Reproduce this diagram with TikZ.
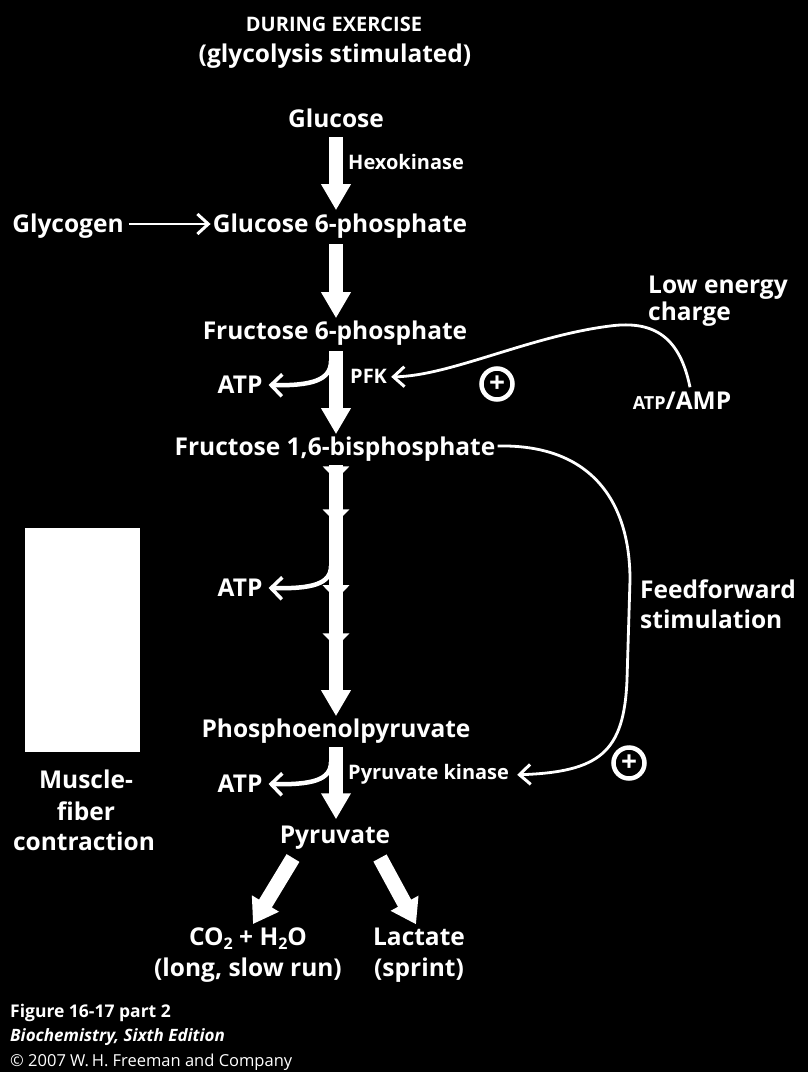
\documentclass[tikz,border=0pt]{standalone}
\usepackage{fontspec}
\setmainfont{Open Sans}
\usetikzlibrary{arrows.meta,decorations.markings}
\newcommand{\subx}[1]{\raisebox{-0.35ex}{\fontsize{16}{16}\selectfont #1}}
\begin{document}
\begin{tikzpicture}[x=1pt,y=-1pt,
  lbl/.style={text=white,font=\fontsize{24.5}{29}\selectfont\bfseries,inner sep=0pt,anchor=base},
  enz/.style={text=white,font=\fontsize{20}{24}\selectfont\bfseries,inner sep=0pt,anchor=base west},
  foot/.style={text=white,font=\fontsize{16.5}{19}\selectfont,inner sep=0pt,anchor=base west},
  bigarrow/.style={white,line width=14pt,-{Triangle[width=28pt,length=26pt]}},
  midhead/.style={postaction={decorate},decoration={markings,#1}},
  thinarrow/.style={white,line width=2.8pt,-{Straight Barb[length=11pt,width=20pt,line width=3pt]}},
  sidearrow/.style={white,line width=4.5pt,-{Straight Barb[length=11pt,width=22pt,line width=3.5pt]}},
  fatarrow/.style={white,line width=15pt,-{Triangle[width=30pt,length=24pt]}},
  pluscirc/.style={circle,draw=white,line width=4.5pt,minimum size=31pt,inner sep=0pt,text=white,font=\fontsize{28}{28}\selectfont\bfseries}]

\fill[black] (0,0) rectangle (808,1072);
\useasboundingbox (0,0) rectangle (808,1072);

% titles
\node[lbl,font=\fontsize{20}{25}\selectfont\bfseries] (t1) at (334,31) {DURING EXERCISE};
\node[lbl] (t2) at (335,62) {(glycolysis stimulated)};

% main metabolites
\node[lbl] (glc) at (336,127) {Glucose};
\node[lbl] (g6p) at (340,232) {Glucose 6-phosphate};
\node[lbl] (gly) at (68,232) {Glycogen};
\node[lbl] (f6p) at (335,339) {Fructose 6-phosphate};
\node[lbl] (f16) at (335,455) {Fructose 1,6-bisphosphate};
\node[lbl] (pep) at (336,737) {Phosphoenolpyruvate};
\node[lbl] (pyr) at (335,843) {Pyruvate};
\node[lbl] (co2) at (248,945) {CO\subx{2} + H\subx{2}O};
\node[lbl] (long) at (248,976) {(long, slow run)};
\node[lbl] (lac) at (419,945) {Lactate};
\node[lbl] (spr) at (419,976) {(sprint)};

% ATP side products
\node[lbl] (atp1) at (240,393) {ATP};
\node[lbl] (atp2) at (240,596) {ATP};
\node[lbl] (atp3) at (240,792) {ATP};

% enzymes
\node[enz] (hk) at (348,169) {Hexokinase};
\node[enz] (pfk) at (350,383) {PFK};
\node[enz] (pk) at (348,779) {Pyruvate kinase};

% regulators
\node[lbl,anchor=base west] (low) at (648,293) {Low energy};
\node[lbl,anchor=base west] (chg) at (648,320) {charge};
\node[lbl] (atpamp) at (682,409) {{\fontsize{18}{20}\selectfont ATP}/AMP};
\node[lbl,anchor=base west] (ff) at (640,598) {Feedforward};
\node[lbl,anchor=base west] (stim) at (640,628) {stimulation};
\node[pluscirc] (p1) at (497,384) {+};
\node[pluscirc] (p2) at (629,763) {+};

% muscle
\fill[white] (25,528) rectangle (140,752);
\node[lbl] (m1) at (86,788) {Muscle-};
\node[lbl] (m2) at (86,820) {fiber};
\node[lbl] (m3) at (84,850) {contraction};

% footer
\node[foot,font=\fontsize{17.5}{20}\selectfont\bfseries] (f1) at (10,1017) {Figure 16-17 part 2};
\node[foot,font=\fontsize{17}{19}\selectfont\bfseries\itshape] (f2) at (10,1041) {Biochemistry, Sixth Edition};
\node[foot] (f3) at (10,1066) {\textcopyright{} 2007 W.\,H. Freeman and Company};

% main arrows
\draw[bigarrow,shorten >=3pt] (glc.south) ++(0,10) -- (glc.south |- g6p.north);
\draw[bigarrow,shorten >=2pt] (glc.south |- g6p.south) ++(0,6) -- (glc.south |- f6p.north);
\draw[bigarrow,shorten >=2pt] (glc.south |- f6p.south) ++(0,6) -- (glc.south |- f16.north);
\draw[bigarrow,shorten >=2pt,midhead={mark=at position 0.06 with {\arrow{Triangle[width=26pt,length=14pt]}},
  mark=at position 0.23 with {\arrow{Triangle[width=26pt,length=14pt]}},
  mark=at position 0.53 with {\arrow{Triangle[width=26pt,length=14pt]}},
  mark=at position 0.72 with {\arrow{Triangle[width=26pt,length=14pt]}}}]
  (glc.south |- f16.south) ++(0,4) -- (glc.south |- pep.north);
\draw[bigarrow,shorten >=6pt] (glc.south |- pep.south) ++(0,4) -- (glc.south |- pyr.north);

% glycogen
\draw[thinarrow] ([xshift=5pt,yshift=8pt]gly.base east) -- ([xshift=-2pt,yshift=8pt]g6p.base west);

% side ATP arrows
\coordinate (s1) at (331,361);
\coordinate (s2) at (331,566);
\coordinate (s3) at (331,762);
\draw[sidearrow] (s1) .. controls (331,380) and (312,386) .. ([xshift=6pt,yshift=8pt]atp1.base east);
\draw[sidearrow] (s2) .. controls (331,584) and (312,589) .. ([xshift=6pt,yshift=8pt]atp2.base east);
\draw[sidearrow] (s3) .. controls (331,780) and (312,785) .. ([xshift=6pt,yshift=8pt]atp3.base east);

% regulation curves
\draw[thinarrow] ([xshift=8pt,yshift=4pt]atpamp.north) .. controls (680,338) and (655,320) .. (610,326)
   .. controls (530,336) and (450,376) .. ([xshift=4pt,yshift=-1pt]pfk.east);
\draw[thinarrow] ([xshift=2pt,yshift=9pt]f16.base east) .. controls (590,444) and (630,500) .. (630,580)
   -- (627,680) .. controls (624,752) and (600,772) .. ([xshift=8pt,yshift=-1pt]pk.east);

% pyruvate branches
\coordinate (b1) at (293,858);
\coordinate (b2) at (380,858);
\draw[fatarrow] (b1) -- ([xshift=5pt,yshift=3pt]co2.north);
\draw[fatarrow] (b2) -- ([xshift=-3pt,yshift=3pt]lac.north);
\end{tikzpicture}
\end{document}
